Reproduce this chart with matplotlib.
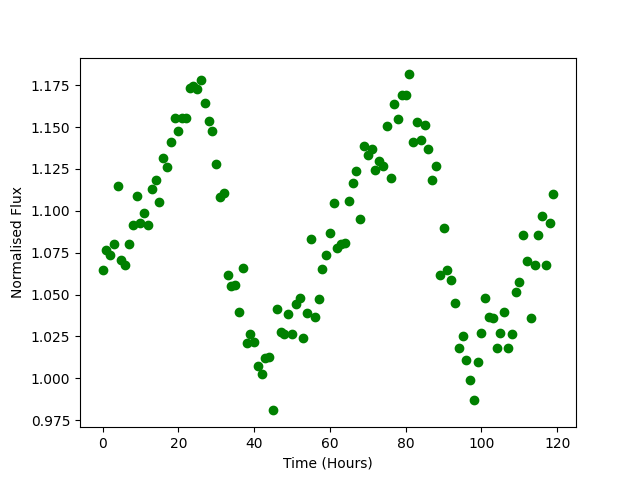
import matplotlib
matplotlib.use("Agg")
import matplotlib.pyplot as plt
import numpy as np

hours = list(range(120))
flux = [
    1.0646, 1.0766, 1.0736, 1.0801, 1.1147, 1.0706, 1.0674, 1.0801, 1.0915, 1.1088,
    1.0925, 1.0984, 1.0915, 1.1128, 1.1183, 1.1050, 1.1313, 1.1259, 1.1408, 1.1551,
    1.1476, 1.1551, 1.1551, 1.1730, 1.1744, 1.1728, 1.1780, 1.1641, 1.1535, 1.1476,
    1.1277, 1.1080, 1.1104, 1.0614, 1.0551, 1.0557, 1.0394, 1.0658, 1.0209, 1.0264,
    1.0215, 1.0073, 1.0024, 1.0119, 1.0129, 0.9809, 1.0412, 1.0278, 1.0263, 1.0384,
    1.0264, 1.0441, 1.0479, 1.0244, 1.0390, 1.0829, 1.0364, 1.0471, 1.0650, 1.0734,
    1.0865, 1.1044, 1.0776, 1.0800, 1.0809, 1.1061, 1.1163, 1.1235, 1.0949, 1.1386,
    1.1336, 1.1366, 1.1243, 1.1298, 1.1269, 1.1505, 1.1195, 1.1635, 1.1545, 1.1690,
    1.1690, 1.1814, 1.1410, 1.1529, 1.1422, 1.1510, 1.1366, 1.1183, 1.1265, 1.0616,
    1.0895, 1.0646, 1.0587, 1.0448, 1.0179, 1.0253, 1.0107, 0.9988, 0.9871, 1.0095,
    1.0269, 1.0477, 1.0364, 1.0358, 1.0179, 1.0269, 1.0394, 1.0179, 1.0263, 1.0513,
    1.0573, 1.0853, 1.0700, 1.0358, 1.0674, 1.0853, 1.0968, 1.0674, 1.0925, 1.1098,
]

fig, ax = plt.subplots(figsize=(6.4, 4.8), dpi=100)
ax.plot(hours, flux, 'go')
ax.set_xlabel('Time (Hours)')
ax.set_ylabel('Normalised Flux')
fig.savefig('out.png')
